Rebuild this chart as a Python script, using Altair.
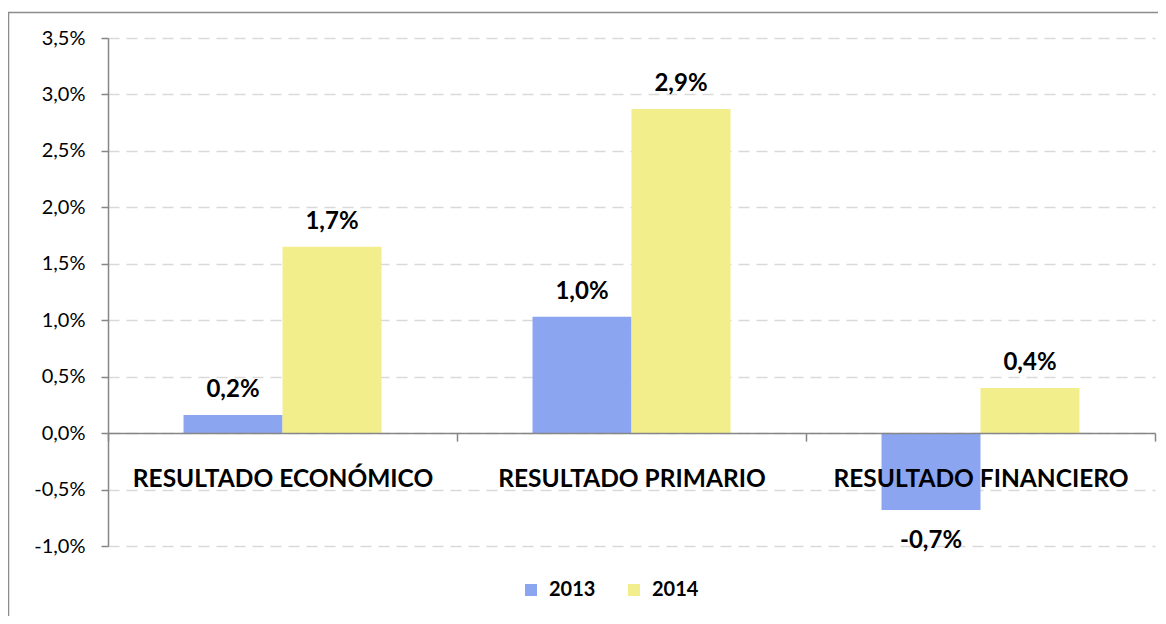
import altair as alt
import pandas as pd

categories = ["RESULTADO ECONÓMICO", "RESULTADO PRIMARIO", "RESULTADO FINANCIERO"]
years = ["2013", "2014"]
values_2013 = [0.16, 1.03, -0.68]
values_2014 = [1.65, 2.87, 0.40]
labels_2013 = ["0,2%", "1,0%", "-0,7%"]
labels_2014 = ["1,7%", "2,9%", "0,4%"]
y_ticks = [-1.0, -0.5, 0.0, 0.5, 1.0, 1.5, 2.0, 2.5, 3.0, 3.5]
colors = ["#8CA5F1", "#F3EE8C"]

rows = []
for i, c in enumerate(categories):
    rows.append(dict(cat=c, year="2013", v=values_2013[i], lab=labels_2013[i]))
    rows.append(dict(cat=c, year="2014", v=values_2014[i], lab=labels_2014[i]))
df = pd.DataFrame(rows)

FONT = "Lato"
W, H = 1047, 508
ymin, ymax = -1.0, 3.5
zero_off = -(H * (0 - ymin) / (ymax - ymin))

x = alt.X(
    "cat:N", sort=categories, title=None,
    scale=alt.Scale(paddingInner=0, paddingOuter=0),
    axis=alt.Axis(
        offset=zero_off, domainColor="#868686", domainWidth=1.5,
        tickColor="#868686", tickSize=8, tickWidth=1.5, tickBand="extent",
        labelAngle=0, labelFont=FONT, labelFontSize=24.5, labelFontWeight="bold",
        labelColor="black", labelPadding=26, labelLimit=0, zindex=1, grid=False,
    ),
)
xo = alt.XOffset("year:N", sort=years, scale=alt.Scale(paddingInner=0, paddingOuter=0.763))
y = alt.Y(
    "v:Q", title=None,
    scale=alt.Scale(domain=[ymin, ymax], nice=False, zero=False),
    axis=alt.Axis(
        values=y_ticks,
        labelExpr="replace(replace(format(datum.value, '.1f'), '.', ','), '\u2212', '-') + '%'",
        grid=True, gridDash=[11, 7], gridColor="#D9D9D9", gridWidth=1.5,
        domainColor="#868686", domainWidth=1.5, tickColor="#868686", tickSize=7, tickWidth=1.5,
        labelFont=FONT, labelFontSize=20, labelColor="black", labelPadding=16,
    ),
)
color = alt.Color(
    "year:N", sort=years, scale=alt.Scale(domain=years, range=colors),
    legend=alt.Legend(
        orient="none", legendX=413, legendY=542, direction="horizontal", title=None,
        symbolType="square", symbolSize=144, symbolStrokeWidth=0,
        labelFont=FONT, labelFontSize=20, labelFontWeight="bold", labelColor="black",
        labelOffset=8, columnPadding=28, padding=0,
    ),
)

base = alt.Chart(df)
bars = base.mark_bar().encode(x=x, xOffset=xo, y=y, color=color)
txt_pos = base.transform_filter("datum.v >= 0").mark_text(
    font=FONT, fontSize=24, fontWeight="bold", color="black", baseline="alphabetic", dy=-18
).encode(x=x, xOffset=xo, y=y, text="lab:N")
txt_neg = base.transform_filter("datum.v < 0").mark_text(
    font=FONT, fontSize=24, fontWeight="bold", color="black", baseline="alphabetic", dy=38
).encode(x=x, xOffset=xo, y=y, text="lab:N")

frame = alt.Chart(pd.DataFrame({"a": [0]})).mark_rect(
    fillOpacity=0, stroke="#8C8C8C", strokeWidth=1.5
).encode(x=alt.value(-99.5), x2=alt.value(1070), y=alt.value(-25.5), y2=alt.value(620))

chart = alt.layer(bars, txt_pos, txt_neg, frame).properties(
    width=W, height=H,
    padding={"left": 100, "top": 30, "right": 3, "bottom": 70},
    autosize=alt.AutoSizeParams(type="none"),
).configure_view(strokeWidth=0)

chart.save("out.html", embed_options={"renderer": "svg", "actions": False})
